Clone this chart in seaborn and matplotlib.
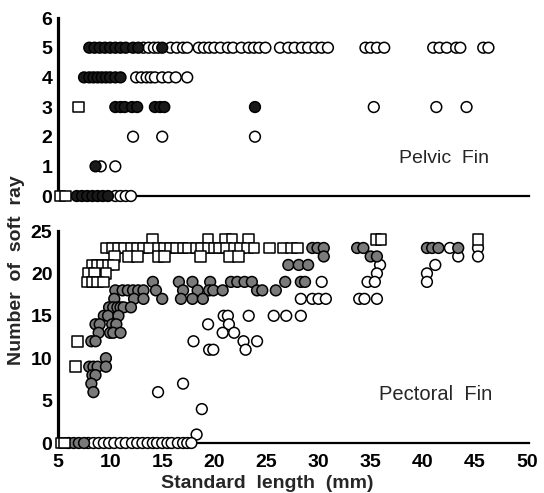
import pandas as pd
import matplotlib
matplotlib.use("Agg")
import matplotlib.pyplot as plt
import seaborn as sns

# ---- Pelvic fin (top panel) ----
pelvic_open_x = [13.2, 13.7, 14.2, 14.6, 15.8, 16.4, 17.0, 17.4, 18.5, 19.0, 19.5, 20.0, 20.6,
                 21.3, 21.8, 22.6, 23.3, 23.8, 24.3, 24.9, 26.3, 27.1, 27.7, 28.4, 29.0, 29.7,
                 30.3, 30.9, 34.5, 35.0, 35.6, 36.3, 41.0, 41.6, 42.3, 43.2, 43.6, 45.8, 46.3,
                 12.5, 13.0, 13.5, 13.9, 14.3, 15.0, 15.6, 16.3, 17.4,
                 35.3, 41.3, 44.2,
                 12.2, 15.0, 23.9,
                 9.1, 10.5,
                 10.5, 11.0, 11.5, 12.0]
pelvic_open_y = [5, 5, 5, 5, 5, 5, 5, 5, 5, 5, 5, 5, 5,
                 5, 5, 5, 5, 5, 5, 5, 5, 5, 5, 5, 5, 5,
                 5, 5, 5, 5, 5, 5, 5, 5, 5, 5, 5, 5, 5,
                 4, 4, 4, 4, 4, 4, 4, 4, 4,
                 3, 3, 3,
                 2, 2, 2,
                 1, 1,
                 0, 0, 0, 0]
pelvic_filled_x = [8.0, 8.5, 9.0, 9.5, 10.0, 10.5, 11.0, 11.5, 12.2, 12.7, 15.0,
                   7.5, 8.0, 8.4, 8.8, 9.2, 9.6, 10.0, 10.5, 11.0,
                   10.5, 11.0, 11.4, 12.1, 12.6, 14.3, 14.8, 15.2, 23.9,
                   8.6,
                   6.8, 7.3, 7.8, 8.3, 8.8, 9.3, 9.8]
pelvic_filled_y = [5, 5, 5, 5, 5, 5, 5, 5, 5, 5, 5,
                   4, 4, 4, 4, 4, 4, 4, 4, 4,
                   3, 3, 3, 3, 3, 3, 3, 3, 3,
                   1,
                   0, 0, 0, 0, 0, 0, 0]
pelvic_square_x = [7.0, 5.2, 5.7]
pelvic_square_y = [3, 0, 0]

# ---- Pectoral fin (bottom panel) ----
pect_square_x = [14.1, 19.4, 21.1, 21.7, 23.3, 35.5, 36.0, 45.3,
                 9.6, 10.2, 10.8, 11.4, 12.0, 12.6, 13.2, 13.8, 14.6, 15.2, 15.8, 16.4, 17.0,
                 17.5, 18.3, 18.8, 19.4, 20.0, 20.5, 21.2, 21.9, 22.5, 23.2, 23.8, 25.3, 26.6,
                 27.4, 28.0,
                 10.4, 11.8, 12.6, 14.6, 15.2, 18.7, 21.4, 22.3,
                 8.3, 8.8, 9.3, 9.8, 10.3,
                 7.9, 8.5, 9.6,
                 7.8, 8.3, 8.8, 9.4,
                 6.9, 6.7, 5.3, 5.6]
pect_square_y = [24, 24, 24, 24, 24, 24, 24, 24,
                 23, 23, 23, 23, 23, 23, 23, 23, 23, 23, 23, 23, 23,
                 23, 23, 23, 23, 23, 23, 23, 23, 23, 23, 23, 23, 23,
                 23, 23,
                 22, 22, 22, 22, 22, 22, 22, 22,
                 21, 21, 21, 21, 21,
                 20, 20, 20,
                 19, 19, 19, 19,
                 12, 9, 0, 0]
pect_filled_x = [29.4, 29.9, 30.5, 33.7, 34.3, 40.4, 40.9, 41.5, 43.4,
                 30.5, 35.0, 35.6,
                 27.1, 28.1, 29.0,
                 14.1, 16.6, 17.9, 19.6, 21.6, 22.2, 22.9, 23.6, 26.8, 28.3, 28.7,
                 10.5, 11.2, 11.7, 12.2, 12.7, 13.2, 14.4, 17.0, 18.4, 19.5, 19.9, 20.8,
                 24.1, 24.6, 25.9,
                 10.4, 12.3, 13.2, 15.0, 16.8, 17.9, 18.9,
                 9.9, 10.3, 10.7, 11.0, 11.3, 12.0,
                 9.4, 9.8, 10.8,
                 8.6, 9.0, 10.2, 10.6,
                 8.9, 10.0, 10.3, 11.0,
                 8.2, 8.6,
                 9.6,
                 8.0, 8.4, 8.8, 9.6,
                 8.3, 8.6, 8.2, 8.4,
                 6.0, 6.5, 7.0, 7.5]
pect_filled_y = [23, 23, 23, 23, 23, 23, 23, 23, 23,
                 22, 22, 22,
                 21, 21, 21,
                 19, 19, 19, 19, 19, 19, 19, 19, 19, 19, 19,
                 18, 18, 18, 18, 18, 18, 18, 18, 18, 18, 18, 18,
                 18, 18, 18,
                 17, 17, 17, 17, 17, 17, 17,
                 16, 16, 16, 16, 16, 16,
                 15, 15, 15,
                 14, 14, 14, 14,
                 13, 13, 13, 13,
                 12, 12,
                 10,
                 9, 9, 9, 9,
                 8, 8, 7, 6,
                 0, 0, 0, 0]
pect_open_x = [42.6, 45.3, 43.4, 45.3, 35.9, 41.2, 35.6, 40.4,
               30.3, 34.7, 35.4, 40.4,
               28.3, 29.4, 30.0, 30.7, 33.9, 34.4, 35.6,
               20.9, 21.3, 23.3, 25.7, 26.9, 28.3,
               19.4, 21.4, 20.8, 21.9,
               18.0, 22.8, 24.1, 19.5, 19.9, 23.0,
               17.0, 14.6, 18.8, 18.3,
               7.9, 8.4, 8.9, 9.4, 9.9, 10.4, 11.0, 11.5, 12.1, 12.6, 13.1, 13.6, 14.1,
               14.5, 15.0, 15.5, 15.9, 16.5, 17.0, 17.4, 17.8]
pect_open_y = [23, 23, 22, 22, 21, 21, 20, 20,
               19, 19, 19, 19,
               17, 17, 17, 17, 17, 17, 17,
               15, 15, 15, 15, 15, 15,
               14, 14, 13, 13,
               12, 12, 12, 11, 11, 11,
               7, 6, 4, 1,
               0, 0, 0, 0, 0, 0, 0, 0, 0, 0, 0, 0, 0,
               0, 0, 0, 0, 0, 0, 0, 0]


def make_df(open_x, open_y, filled_x, filled_y, sq_x, sq_y):
    parts = [
        pd.DataFrame({"length": open_x, "rays": open_y, "kind": "open"}),
        pd.DataFrame({"length": filled_x, "rays": filled_y, "kind": "filled"}),
        pd.DataFrame({"length": sq_x, "rays": sq_y, "kind": "square"}),
    ]
    return pd.concat(parts, ignore_index=True)


pelvic = make_df(pelvic_open_x, pelvic_open_y, pelvic_filled_x, pelvic_filled_y,
                 pelvic_square_x, pelvic_square_y)
pectoral = make_df(pect_open_x, pect_open_y, pect_filled_x, pect_filled_y,
                   pect_square_x, pect_square_y)

sns.set_style("white")
plt.rcParams["font.family"] = ["Liberation Sans", "DejaVu Sans"]

fig = plt.figure(figsize=(5.44, 4.93), dpi=100)
ax1 = fig.add_axes([0.1066, 0.6024, 0.866, 0.361])
ax2 = fig.add_axes([0.1066, 0.1014, 0.866, 0.430])

markers = {"open": "o", "filled": "o", "square": "s"}


def draw(ax, df, fill):
    palette = {"open": "white", "filled": fill, "square": "white"}
    sns.scatterplot(data=df, x="length", y="rays", hue="kind", style="kind",
                    markers=markers, palette=palette, edgecolor="black",
                    linewidth=1.1, s=60, legend=False, clip_on=False, ax=ax,
                    zorder=3)


draw(ax1, pelvic, "#1a1a1a")
draw(ax2, pectoral, "#7a7a7a")

for ax in (ax1, ax2):
    ax.set_xlim(5, 50.2)
    ax.set_xticks(range(5, 51, 5))
    ax.set_xlabel("")
    ax.set_ylabel("")
    for side in ("top", "right"):
        ax.spines[side].set_visible(False)
    ax.spines["left"].set_linewidth(2.3)
    ax.spines["bottom"].set_linewidth(1.6)
    ax.spines["left"].set_color("black")
    ax.spines["bottom"].set_color("black")
    ax.tick_params(axis="both", direction="in", length=5, width=1.2,
                   colors="black", labelsize=14)
    ax.tick_params(axis="y", pad=4)

ax1.set_ylim(0, 6)
ax1.set_yticks(range(0, 7))
ax1.tick_params(axis="x", labelbottom=False)

ax2.set_ylim(0, 25)
ax2.set_yticks(range(0, 26, 5))
ax2.tick_params(axis="x", pad=8)
for lbl in ax2.get_yticklabels() + ax2.get_xticklabels() + ax1.get_yticklabels():
    lbl.set_fontweight("bold")

ax1.text(42.0, 1.28, "Pelvic  Fin", fontsize=14, ha="center", va="center")
ax2.text(41.2, 5.7, "Pectoral  Fin", fontsize=14.5, ha="center", va="center")

fig.text(0.491, 0.020, "Standard  length  (mm)", fontsize=14, ha="center",
         va="center", fontweight="bold")
fig.text(0.031, 0.452, "Number  of  soft  ray", fontsize=14, ha="center",
         va="center", rotation=90, fontweight="bold")

fig.savefig("out.png", dpi=100)
